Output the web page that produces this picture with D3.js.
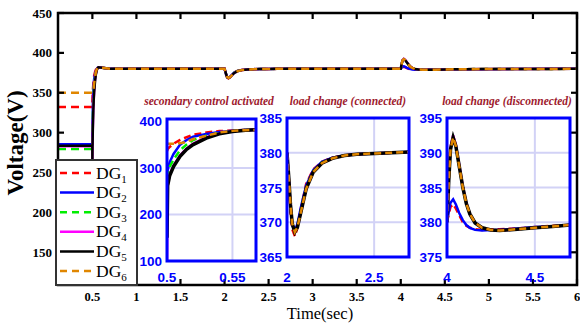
<!DOCTYPE html>
<html>
<head>
<meta charset="utf-8">
<script src="https://cdn.jsdelivr.net/npm/d3@7"></script>
<style>
  body { margin: 0; background: #fff; }
  svg { display: block; }
</style>
</head>
<body>
<script>
// series names / colours
var dgNames = ["DG1", "DG2", "DG3", "DG4", "DG5", "DG6"];
var dgColors = ["#ff0000", "#0000ff", "#00ee00", "#ff00ff", "#000000", "#e08600"];
var dgDashed = [true, false, true, false, false, true];

// main axis ticks
var xTicks = [0.5, 1, 1.5, 2, 2.5, 3, 3.5, 4, 4.5, 5, 5.5, 6];
var yTicks = [150, 200, 250, 300, 350, 400, 450];

// before secondary control (t < 0.5 s)
var tPre = [0.11, 0.4999];
var vPre = [332, 285.5, 279.5, 283, 283.5, 350];

// secondary control activated (0.5 .. 0.57 s)
var t1 = [0.5, 0.5005, 0.502, 0.505, 0.51, 0.515, 0.52, 0.53, 0.54, 0.55, 0.56, 0.57];
var v1 = [
  [336, 340, 345, 352, 360, 366, 371, 376, 379, 380.5, 381.5, 382],
  [284, 295, 312, 330, 350, 360, 367, 373, 377, 380, 381.5, 382],
  [279, 288, 302, 318, 338, 350, 360, 369, 375, 379, 381, 382],
  [100, 262, 285, 305, 327, 342, 352, 366, 374, 378.5, 381, 382],
  [150, 262, 283, 303, 325, 340, 350, 364, 373, 378, 381, 382],
  [352, 352, 352, 352, 353, 356, 362, 369, 376, 379.5, 381, 382]
];
var tSettle = [0.7, 2.0];
var vSettle = 380;

// load connected (2 .. 2.7 s)
var t2 = [2.0, 2.01, 2.02, 2.03, 2.045, 2.06, 2.08, 2.11, 2.15, 2.2, 2.26, 2.33, 2.4, 2.5, 2.6, 2.7];
var v2 = [
  [380, 376, 371.5, 369, 368, 369.2, 372, 375.5, 377.6, 378.7, 379.3, 379.6, 379.8, 379.9, 380, 380.1],
  [380, 376.3, 372.2, 369.5, 368.8, 369.8, 372.2, 375.3, 377.5, 378.7, 379.3, 379.6, 379.8, 379.9, 380, 380.1],
  [380, 376.4, 372.4, 369.7, 368.6, 369.4, 371.7, 375, 377.3, 378.6, 379.2, 379.6, 379.8, 379.9, 380, 380.1],
  [380, 376.5, 372.5, 369.8, 368.6, 369.3, 371.5, 374.8, 377.2, 378.5, 379.2, 379.6, 379.8, 379.9, 380, 380.1],
  [380, 376.5, 372.5, 369.8, 368.6, 369.3, 371.5, 374.8, 377.2, 378.5, 379.2, 379.6, 379.8, 379.9, 380, 380.1],
  [380, 376.5, 372.5, 369.8, 368.6, 369.3, 371.5, 374.8, 377.2, 378.5, 379.2, 379.6, 379.8, 379.9, 380, 380.1]
];

// load disconnected (4 .. 4.7 s)
var t3 = [4.0, 4.01, 4.02, 4.035, 4.05, 4.07, 4.09, 4.11, 4.13, 4.16, 4.2, 4.25, 4.3, 4.4, 4.5, 4.6, 4.7];
var v3 = [
  [380, 381.2, 382.2, 382.6, 382, 381, 380, 379.5, 379.2, 379, 378.9, 379, 379, 379.1, 379.3, 379.5, 379.6],
  [380, 381.5, 382.8, 383.3, 382.6, 381.3, 380.3, 379.6, 379.2, 378.9, 378.8, 378.9, 378.9, 379.1, 379.3, 379.4, 379.6],
  [380, 386, 390.4, 392.1, 391, 388, 385, 382.7, 381.2, 379.9, 379.2, 378.9, 378.8, 379, 379.2, 379.4, 379.6],
  [380, 386.2, 390.8, 392.5, 391.2, 388.2, 385.1, 382.8, 381.2, 379.9, 379.2, 378.9, 378.8, 379, 379.2, 379.4, 379.6],
  [380, 386, 390.5, 392.2, 391, 388, 385, 382.7, 381.2, 379.9, 379.2, 378.9, 378.8, 379, 379.2, 379.4, 379.6],
  [380, 386, 390.5, 392.2, 391, 388, 385, 382.7, 381.2, 379.9, 379.2, 378.9, 378.8, 379, 379.2, 379.4, 379.6]
];
var tEnd = 6.0;

// inset definitions (ticks / domains)
var insets = [
  {title: "secondary control activated", t: t1, v: v1, xd: [0.5, 0.568], yd: [100, 405],
   xt: [0.5, 0.55], yt: [100, 200, 300, 400], grid: [200, 300],
   box: [167, 119, 256, 261], tc: 209},
  {title: "load change (connected)", t: t2, v: v2, xd: [2, 2.7], yd: [365, 385],
   xt: [2, 2.5], yt: [365, 370, 375, 380, 385], grid: [370, 375, 380],
   box: [287, 118, 409, 257], tc: 348},
  {title: "load change (disconnected)", t: t3, v: v3, xd: [4, 4.7], yd: [375, 395],
   xt: [4, 4.5], yt: [375, 380, 385, 390, 395], grid: [380, 385, 390],
   box: [447, 118, 570, 257], tc: 507}
];

var width = 580, height = 324;
var plot = {left: 58, top: 13, right: 577, bottom: 285};

var svg = d3.select("body").append("svg")
  .attr("width", width)
  .attr("height", height);

var x = d3.scaleLinear().domain([0.11, 6]).range([plot.left, plot.right]);
var y = d3.scaleLinear().domain([109, 450]).range([plot.bottom, plot.top]);

svg.append("clipPath").attr("id", "clipMain")
  .append("rect")
  .attr("x", plot.left).attr("y", plot.top)
  .attr("width", plot.right - plot.left).attr("height", plot.bottom - plot.top);

// build full-time series for the main plot
var mainSeries = dgNames.map(function(name, i) {
  var pts = [];
  tPre.forEach(function(t) { pts.push([t, vPre[i]]); });
  t1.forEach(function(t, j) { pts.push([t, v1[i][j]]); });
  tSettle.forEach(function(t) { pts.push([t, vSettle]); });
  t2.forEach(function(t, j) { pts.push([t, v2[i][j]]); });
  t3.forEach(function(t, j) { pts.push([t, v3[i][j]]); });
  pts.push([tEnd, vSettle]);
  return pts;
});

var line = d3.line().x(function(d) { return x(d[0]); }).y(function(d) { return y(d[1]); });

svg.append("g").attr("clip-path", "url(#clipMain)")
  .selectAll("path").data(mainSeries).enter()
  .append("path")
  .attr("d", line)
  .attr("fill", "none")
  .attr("stroke", function(d, i) { return dgColors[i]; })
  .attr("stroke-width", 2.5)
  .attr("stroke-dasharray", function(d, i) { return dgDashed[i] ? "8,5" : null; });

// frame + ticks
var axisStroke = 2.5;
var frame = svg.append("g");
frame.append("rect")
  .attr("x", plot.left).attr("y", plot.top)
  .attr("width", plot.right - plot.left).attr("height", plot.bottom - plot.top)
  .attr("fill", "none").attr("stroke", "#000").attr("stroke-width", axisStroke);

xTicks.forEach(function(t) {
  frame.append("line")
    .attr("x1", x(t)).attr("x2", x(t)).attr("y1", plot.bottom).attr("y2", plot.bottom - 6)
    .attr("stroke", "#000").attr("stroke-width", 2.2);
  frame.append("line")
    .attr("x1", x(t)).attr("x2", x(t)).attr("y1", plot.top).attr("y2", plot.top + 6)
    .attr("stroke", "#000").attr("stroke-width", 2.2);
  frame.append("text")
    .attr("x", x(t)).attr("y", 301)
    .attr("text-anchor", "middle")
    .attr("font-family", "Liberation Serif, serif")
    .attr("font-weight", "bold")
    .attr("font-size", "12.5px")
    .text(t);
});
yTicks.forEach(function(v) {
  frame.append("line")
    .attr("x1", plot.left).attr("x2", plot.left + 6).attr("y1", y(v)).attr("y2", y(v))
    .attr("stroke", "#000").attr("stroke-width", 2.2);
  frame.append("line")
    .attr("x1", plot.right).attr("x2", plot.right - 6).attr("y1", y(v)).attr("y2", y(v))
    .attr("stroke", "#000").attr("stroke-width", 2.2);
  frame.append("text")
    .attr("x", 52).attr("y", y(v) + 4.5)
    .attr("text-anchor", "end")
    .attr("font-family", "Liberation Serif, serif")
    .attr("font-weight", "bold")
    .attr("font-size", "13px")
    .text(v);
});

svg.append("text")
  .attr("transform", "translate(23," + 143 + ") rotate(-90)")
  .attr("text-anchor", "middle")
  .attr("font-family", "Liberation Serif, serif")
  .attr("font-weight", "bold")
  .attr("font-size", "23px")
  .text("Voltage(V)");

svg.append("text")
  .attr("x", 320).attr("y", 319)
  .attr("text-anchor", "middle")
  .attr("font-family", "Liberation Serif, serif")
  .attr("font-size", "16.5px")
  .text("Time(sec)");

// insets
insets.forEach(function(ins, k) {
  var b = ins.box;
  var ix = d3.scaleLinear().domain(ins.xd).range([b[0], b[2]]);
  var iy = d3.scaleLinear().domain(ins.yd).range([b[3], b[1]]);
  var g = svg.append("g");

  g.append("clipPath").attr("id", "clipIns" + k)
    .append("rect")
    .attr("x", b[0]).attr("y", b[1]).attr("width", b[2] - b[0]).attr("height", b[3] - b[1]);

  g.append("rect")
    .attr("x", b[0]).attr("y", b[1]).attr("width", b[2] - b[0]).attr("height", b[3] - b[1])
    .attr("fill", "#fff");

  // grid
  ins.grid.forEach(function(v) {
    g.append("line")
      .attr("x1", b[0]).attr("x2", b[2]).attr("y1", iy(v)).attr("y2", iy(v))
      .attr("stroke", "#d2d2f6").attr("stroke-width", 2);
  });
  g.append("line")
    .attr("x1", ix(ins.xt[1])).attr("x2", ix(ins.xt[1])).attr("y1", b[1]).attr("y2", b[3])
    .attr("stroke", "#d2d2f6").attr("stroke-width", 2);

  var iline = d3.line()
    .x(function(d, j) { return ix(ins.t[j]); })
    .y(function(d) { return iy(d); });

  g.append("g").attr("clip-path", "url(#clipIns" + k + ")")
    .selectAll("path").data(ins.v).enter()
    .append("path")
    .attr("d", iline)
    .attr("fill", "none")
    .attr("stroke", function(d, i) { return dgColors[i]; })
    .attr("stroke-width", function(d, i) { return i == 4 ? 3.5 : 2.5; })
    .attr("stroke-dasharray", function(d, i) { return dgDashed[i] ? "7,4" : null; });

  g.append("rect")
    .attr("x", b[0]).attr("y", b[1]).attr("width", b[2] - b[0]).attr("height", b[3] - b[1])
    .attr("fill", "none").attr("stroke", "#0000ff").attr("stroke-width", 3);

  ins.yt.forEach(function(v) {
    g.append("text")
      .attr("x", b[0] - 5).attr("y", iy(v) + 5)
      .attr("text-anchor", "end")
      .attr("font-family", "Liberation Sans, Arial, sans-serif")
      .attr("font-weight", "bold")
      .attr("font-size", "13.5px")
      .attr("fill", "#0000ff")
      .text(v);
  });
  ins.xt.forEach(function(t) {
    g.append("text")
      .attr("x", ix(t)).attr("y", 282)
      .attr("text-anchor", "middle")
      .attr("font-family", "Liberation Sans, Arial, sans-serif")
      .attr("font-weight", "bold")
      .attr("font-size", "13.5px")
      .attr("fill", "#0000ff")
      .text(t);
  });

  g.append("text")
    .attr("x", ins.tc).attr("y", 105)
    .attr("text-anchor", "middle")
    .attr("font-family", "Liberation Serif, serif")
    .attr("font-style", "italic")
    .attr("font-weight", "bold")
    .attr("font-size", "11.5px")
    .attr("fill", "#9e1a2e")
    .text(ins.title);
});

// legend
var leg = svg.append("g");
leg.append("rect")
  .attr("x", 56).attr("y", 160).attr("width", 81).attr("height", 125)
  .attr("fill", "#fff").attr("stroke", "#333").attr("stroke-width", 2);

dgNames.forEach(function(name, i) {
  var ly = 173 + i * 19.6;
  leg.append("line")
    .attr("x1", 60).attr("x2", 94).attr("y1", ly).attr("y2", ly)
    .attr("stroke", dgColors[i]).attr("stroke-width", 2.5)
    .attr("stroke-dasharray", dgDashed[i] ? "7,5" : null);
  var txt = leg.append("text")
    .attr("x", 96).attr("y", ly + 5.5)
    .attr("font-family", "Liberation Serif, serif")
    .attr("font-size", "17.5px");
  txt.append("tspan").text(name.slice(0, 2));
  txt.append("tspan").attr("dy", 4).attr("font-size", "11px").text(name.slice(2));
});
</script>
</body>
</html>
